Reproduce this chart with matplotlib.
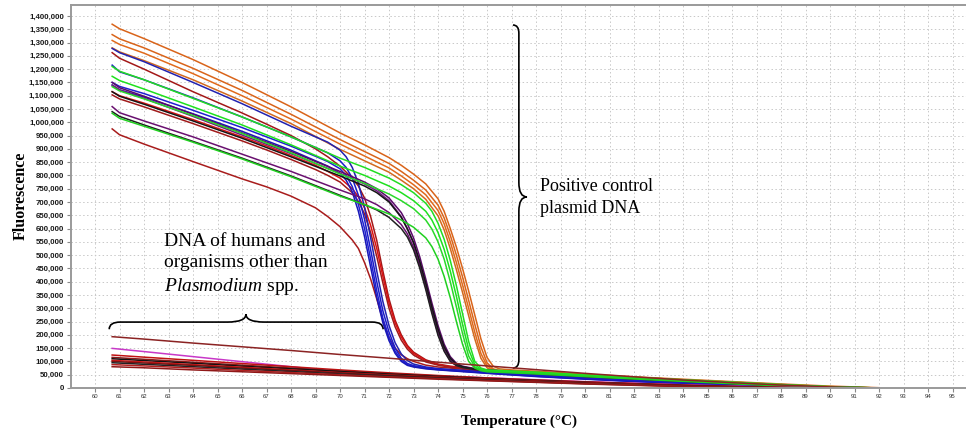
import matplotlib
matplotlib.use("Agg")
import matplotlib.pyplot as plt
from matplotlib.path import Path
from matplotlib.patches import PathPatch
from matplotlib.ticker import FuncFormatter, MultipleLocator

plt.rcParams["mathtext.fontset"] = "custom"
plt.rcParams["mathtext.rm"] = "Liberation Serif"
plt.rcParams["mathtext.it"] = "Liberation Serif:italic"

# melt curves, fluorescence in thousands
t_orange = [60.7, 61, 62, 64, 66, 68, 70, 71, 72, 72.5, 73, 73.5, 74, 74.25, 74.5, 74.75, 75, 75.25,
            75.5, 75.75, 76, 76.25, 76.5, 77, 78, 80, 82, 84, 86, 88, 90, 92]
orange_1 = [1369, 1352, 1315, 1236, 1150, 1058, 960, 915, 867, 838, 805, 768, 712, 665, 600, 530, 450, 365,
            275, 185, 115, 82, 72, 68, 63, 52, 42, 33, 24, 15, 7, 1]
orange_2 = [1330, 1314, 1280, 1203, 1120, 1030, 935, 890, 845, 815, 782, 745, 688, 640, 575, 500, 418, 330,
            240, 155, 95, 72, 66, 63, 60, 49, 40, 31, 22, 13, 5, 0]
orange_3 = [1308, 1293, 1260, 1183, 1100, 1012, 918, 873, 828, 798, 765, 727, 668, 618, 550, 472, 388, 300,
            210, 130, 84, 68, 63, 60, 57, 47, 38, 29, 20, 12, 4, 0]
orange_4 = [1280, 1265, 1232, 1160, 1080, 995, 898, 855, 812, 782, 750, 710, 648, 595, 525, 445, 360, 272,
            185, 112, 76, 65, 61, 58, 55, 45, 36, 27, 18, 10, 3, 0]

t_green = [60.7, 61, 62, 64, 66, 68, 70, 71, 72, 72.5, 73, 73.5, 73.75, 74, 74.25, 74.5, 74.75, 75, 75.25,
           75.5, 75.75, 76, 77, 78, 80, 82, 84, 86, 88, 90, 92]
green_1 = [1210, 1192, 1160, 1090, 1020, 945, 865, 830, 790, 765, 735, 695, 665, 620, 560, 480, 385, 280, 175,
           100, 75, 68, 64, 60, 49, 40, 31, 22, 13, 5, 0]
green_2 = [1173, 1157, 1125, 1058, 990, 915, 835, 800, 760, 735, 705, 665, 632, 585, 522, 440, 345, 240, 145,
           88, 70, 65, 61, 57, 47, 38, 29, 20, 11, 4, 0]
green_3 = [1134, 1118, 1088, 1025, 958, 885, 805, 770, 730, 705, 675, 632, 598, 550, 485, 400, 305, 205, 120,
           80, 67, 63, 59, 55, 45, 36, 27, 18, 10, 3, 0]
green_4 = [1034, 1015, 985, 925, 862, 795, 722, 690, 655, 632, 605, 565, 532, 485, 420, 340, 250, 165, 100,
           75, 65, 61, 57, 53, 43, 34, 25, 16, 8, 2, 0]

t_blue = [60.7, 61, 62, 64, 66, 68, 69, 69.5, 70, 70.25, 70.5, 70.75, 71, 71.25, 71.5, 71.75, 72, 72.25,
          72.5, 72.75, 73, 73.5, 74, 76, 78, 80, 82, 84, 86, 88, 90]
blue_1 = [1278, 1262, 1228, 1150, 1070, 985, 945, 925, 895, 870, 830, 770, 680, 565, 440, 325, 235, 170,
          128, 103, 90, 79, 73, 60, 48, 38, 29, 20, 12, 5, 0]
blue_2 = [1215, 1190, 1160, 1092, 1020, 945, 905, 885, 855, 830, 790, 725, 635, 520, 400, 290, 210, 150,
          112, 92, 84, 76, 71, 58, 46, 36, 27, 18, 10, 3, 0]
blue_3 = [1150, 1135, 1108, 1045, 980, 910, 872, 852, 825, 800, 758, 690, 600, 485, 365, 262, 190, 138,
          105, 88, 81, 74, 69, 56, 44, 34, 25, 16, 8, 2, 0]
blue_4 = [1140, 1122, 1095, 1032, 966, 895, 855, 835, 808, 782, 738, 665, 570, 455, 340, 245, 178, 130,
          100, 85, 79, 72, 68, 55, 43, 33, 24, 15, 7, 1, 0]

t_red = [60.7, 61, 62, 64, 66, 67, 68, 69, 69.5, 70, 70.5, 70.75, 71, 71.25, 71.5, 71.75, 72, 72.25, 72.5,
         72.75, 73, 73.5, 74, 74.5, 76, 78, 80, 82, 84, 86, 88, 90]
red_1 = [1262, 1241, 1200, 1115, 1035, 993, 950, 900, 870, 835, 790, 760, 715, 645, 555, 440, 335, 255, 200,
         160, 135, 106, 90, 82, 66, 54, 43, 33, 24, 15, 7, 1]
red_2 = [1115, 1100, 1072, 1010, 945, 911, 875, 838, 815, 790, 750, 720, 678, 612, 525, 420, 320, 245, 192,
         155, 130, 103, 88, 80, 65, 53, 42, 32, 23, 14, 6, 0]
red_3 = [1103, 1088, 1058, 995, 930, 896, 860, 822, 800, 775, 735, 702, 655, 585, 495, 395, 300, 230, 180,
         146, 124, 98, 86, 78, 64, 52, 41, 31, 22, 13, 5, 0]
red_4 = [975, 953, 918, 852, 787, 757, 722, 678, 645, 607, 557, 525, 472, 410, 335, 255, 190, 150, 125,
         110, 100, 86, 79, 75, 62, 50, 40, 30, 21, 12, 4, 0]

t_purple = [60.7, 61, 62, 64, 66, 68, 70, 71, 71.5, 72, 72.5, 72.75, 73, 73.25, 73.5, 73.75, 74, 74.25,
            74.5, 74.75, 75, 75.5, 76, 78, 80, 82, 84, 86, 88, 90, 92]
purple_1 = [1150, 1130, 1098, 1030, 960, 890, 815, 775, 750, 715, 660, 618, 565, 495, 410, 320, 235, 165,
            118, 93, 82, 73, 68, 57, 46, 37, 28, 19, 10, 3, 0]
purple_2 = [1140, 1122, 1090, 1022, 952, 882, 808, 768, 742, 705, 645, 600, 545, 472, 388, 298, 215, 150,
            108, 88, 79, 71, 67, 56, 45, 36, 27, 18, 9, 2, 0]
purple_3 = [1059, 1036, 1005, 945, 880, 815, 745, 712, 690, 660, 615, 580, 530, 462, 378, 288, 205, 142,
            102, 85, 77, 70, 66, 55, 44, 35, 26, 17, 8, 2, 0]
black_1 = [1115, 1098, 1068, 1005, 940, 870, 798, 760, 735, 700, 642, 598, 548, 478, 395, 305, 222, 155,
           112, 90, 80, 71, 67, 56, 45, 36, 27, 18, 9, 2, 0]
black_2 = [1040, 1022, 990, 928, 865, 798, 725, 690, 670, 642, 600, 568, 520, 452, 370, 280, 198, 138,
           100, 84, 77, 70, 65, 54, 43, 34, 25, 16, 7, 1, 0]

# samples without the target
t_neg = [60.7, 62, 64, 66, 68, 70, 72, 74, 76, 78, 80, 82, 84, 86, 88, 90, 92]
neg_brown = [193, 184, 169, 155, 141, 126, 112, 97, 83, 69, 55, 42, 30, 20, 11, 4, 0]
neg_magenta = [149, 137, 118, 99, 80, 61, 52, 44, 38, 31, 24, 18, 12, 7, 3, 0, 0]
neg_1 = [124, 116, 104, 92, 80, 68, 57, 47, 38, 30, 23, 17, 11, 6, 2, 0, 0]
neg_2 = [115, 108, 97, 86, 75, 64, 54, 45, 36, 29, 22, 16, 10, 5, 2, 0, 0]
neg_3 = [110, 103, 93, 82, 72, 62, 52, 43, 35, 28, 21, 15, 9, 5, 1, 0, 0]
neg_4 = [104, 98, 88, 78, 68, 58, 49, 41, 33, 26, 20, 14, 8, 4, 1, 0, 0]
neg_5 = [100, 94, 85, 75, 66, 57, 48, 40, 32, 25, 19, 13, 8, 3, 0, 0, 0]
neg_6 = [95, 89, 80, 71, 62, 53, 45, 37, 30, 23, 17, 12, 7, 3, 0, 0, 0]
neg_7 = [88, 83, 75, 66, 58, 50, 42, 35, 28, 22, 16, 11, 6, 2, 0, 0, 0]
neg_8 = [80, 76, 68, 61, 54, 47, 40, 33, 27, 21, 15, 10, 5, 2, 0, 0, 0]

curves = [
    (t_orange, orange_1, "#d9641a"), (t_orange, orange_2, "#d9641a"),
    (t_orange, orange_3, "#e06a1c"), (t_orange, orange_4, "#d2691e"),
    (t_red, red_1, "#a31818"), (t_red, red_2, "#dd1212"),
    (t_red, red_3, "#a01a1a"), (t_red, red_4, "#a81c1c"),
    (t_blue, blue_1, "#2222b0"), (t_blue, blue_2, "#1a1ac8"),
    (t_blue, blue_3, "#2020d0"), (t_blue, blue_4, "#1818b8"),
    (t_purple, purple_1, "#5a0a6a"), (t_purple, purple_2, "#701a80"),
    (t_purple, purple_3, "#6a1070"), (t_purple, black_1, "#151515"),
    (t_purple, black_2, "#202020"),
    (t_green, green_1, "#22dd22"), (t_green, green_2, "#1ee01e"),
    (t_green, green_3, "#2ad82a"), (t_green, green_4, "#20d020"),
    (t_neg, neg_brown, "#8b2323"), (t_neg, neg_magenta, "#c838c8"),
    (t_neg, neg_1, "#c01212"), (t_neg, neg_2, "#8b1a1a"),
    (t_neg, neg_3, "#111111"), (t_neg, neg_4, "#d01818"),
    (t_neg, neg_5, "#7a1010"), (t_neg, neg_6, "#222222"),
    (t_neg, neg_7, "#b02020"), (t_neg, neg_8, "#901818"),
]


def brace_h(ax, x0, x1, xm, y_end, y_line, y_tip, dx_end, dx_tip):
    verts = [(x0, y_end), (x0, y_line), (x0 + dx_end, y_line),
             (xm - dx_tip, y_line), (xm, y_line), (xm, y_tip),
             (xm, y_line), (xm + dx_tip, y_line),
             (x1 - dx_end, y_line), (x1, y_line), (x1, y_end)]
    codes = [Path.MOVETO, Path.CURVE3, Path.CURVE3, Path.LINETO, Path.CURVE3, Path.CURVE3,
             Path.CURVE3, Path.CURVE3, Path.LINETO, Path.CURVE3, Path.CURVE3]
    ax.add_patch(PathPatch(Path(verts, codes), fill=False, lw=1.2, color="black"))


def brace_v(ax, y_top, y_bot, ym, x_end, x_line, x_tip, dy_end, dy_tip):
    verts = [(x_end, y_top), (x_line, y_top), (x_line, y_top - dy_end),
             (x_line, ym + dy_tip), (x_line, ym), (x_tip, ym),
             (x_line, ym), (x_line, ym - dy_tip),
             (x_line, y_bot + dy_end), (x_line, y_bot), (x_end, y_bot)]
    codes = [Path.MOVETO, Path.CURVE3, Path.CURVE3, Path.LINETO, Path.CURVE3, Path.CURVE3,
             Path.CURVE3, Path.CURVE3, Path.LINETO, Path.CURVE3, Path.CURVE3]
    ax.add_patch(PathPatch(Path(verts, codes), fill=False, lw=1.2, color="black"))


fig = plt.figure(figsize=(9.66, 4.33), dpi=100)
ax = fig.add_axes([0.0735, 0.104, 0.9265, 0.8845])

for temps, vals, col in curves:
    ax.plot(temps, [v * 1000 for v in vals], color=col, lw=1.1, solid_joinstyle="round")

ax.set_xlim(59.02, 95.55)
ax.set_ylim(0, 1441400)
ax.yaxis.set_major_locator(MultipleLocator(50000))
ax.yaxis.set_major_formatter(FuncFormatter(lambda v, p: f"{int(v):,}"))
ax.set_xticks(range(60, 96))

ax.grid(True, linestyle=(0, (1.5, 2.5)), color="#c8c8c8", lw=0.7)
ax.set_axisbelow(True)
for s in ["left", "bottom", "top"]:
    ax.spines[s].set_color("#9a9a9a")
    ax.spines[s].set_linewidth(1.4)
ax.spines["right"].set_visible(False)

ax.tick_params(axis="y", length=3, width=0.8, color="#888888", pad=2,
               labelsize=5.7, labelcolor="#1a1a1a")
ax.tick_params(axis="x", length=3, width=0.8, color="#888888", pad=1.5,
               labelsize=4.3, labelcolor="#333333")
for lab in ax.get_yticklabels():
    lab.set_fontweight("bold")
    lab.set_family("Liberation Sans")
for lab in ax.get_xticklabels():
    lab.set_family("Liberation Sans")

fig.text(0.537, 0.026, "Temperature (°C)", family="Liberation Serif", fontweight="bold",
         fontsize=11, ha="center", va="center")
fig.text(0.021, 0.548, "Fluorescence", family="Liberation Serif", fontweight="bold",
         fontsize=11.5, ha="center", va="center", rotation=90)

# annotations
brace_v(ax, 1366000, 75000, 719000, 77.06, 77.30, 77.63, 31000, 54000)
brace_h(ax, 60.58, 71.76, 66.16, 221000, 248000, 278000, 0.45, 0.75)

ax.text(78.16, 717000, "Positive control\nplasmid DNA", family="Liberation Serif",
        fontsize=13, ha="left", va="center", linespacing=1.35)
ax.text(62.8, 463000, "DNA of humans and\norganisms other than\n$\\mathit{Plasmodium}$ spp.",
        family="Liberation Serif", fontsize=14, ha="left", va="center", linespacing=1.3)

fig.savefig("out.png", dpi=100)
